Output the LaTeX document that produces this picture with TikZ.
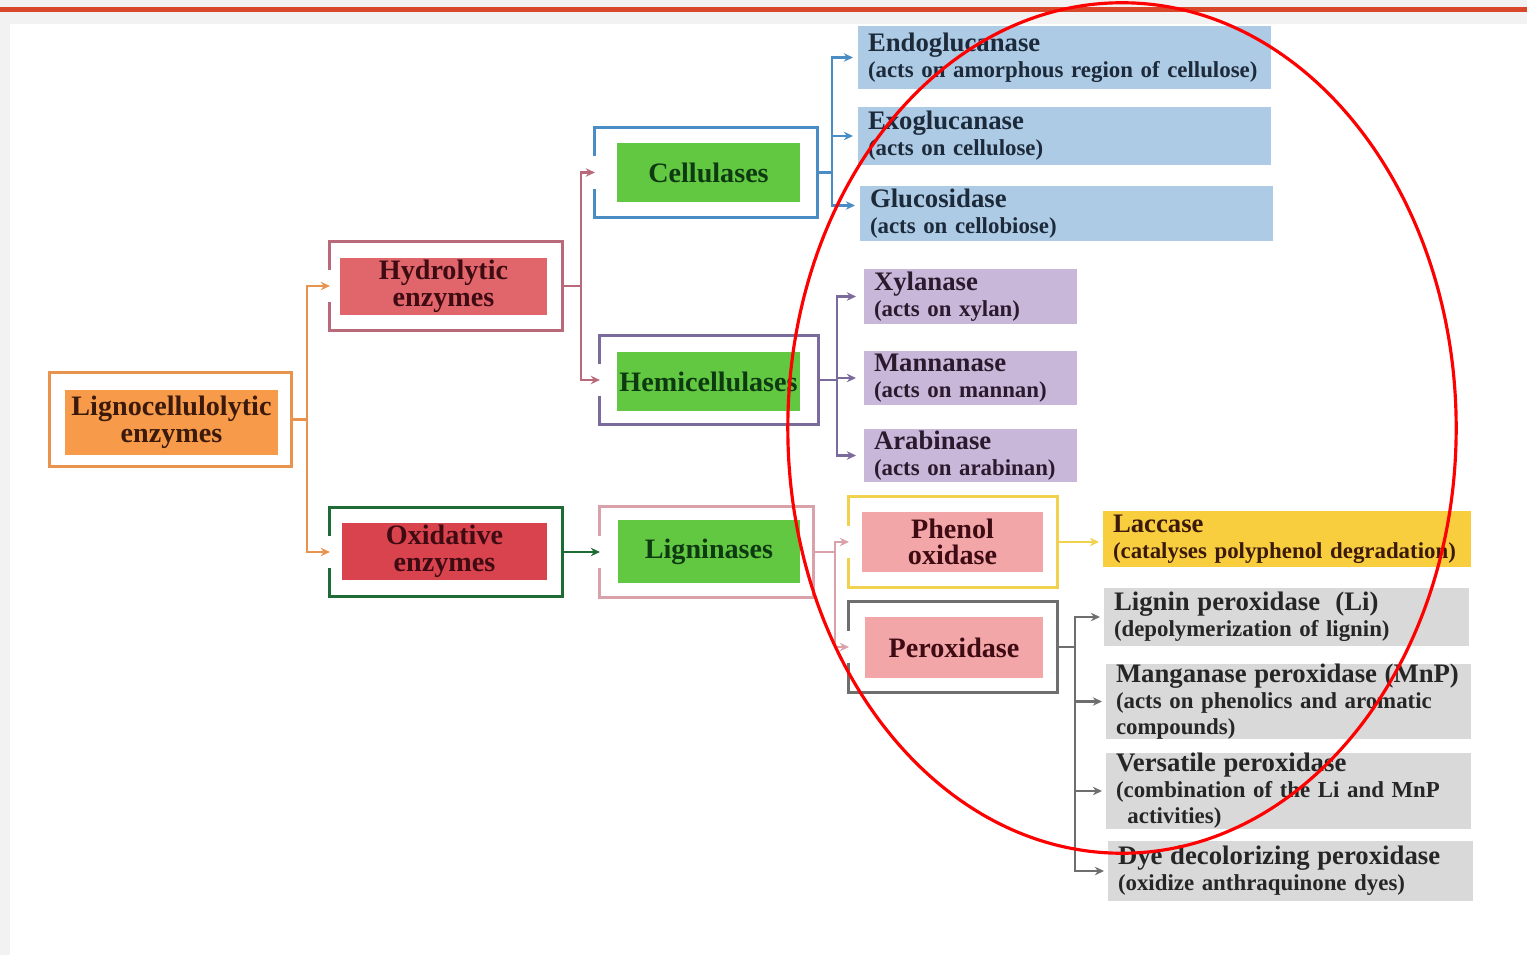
\documentclass[tikz,border=0pt]{standalone}
\usepackage{fontspec}
\setmainfont{Liberation Serif}
\usetikzlibrary{arrows.meta}

\definecolor{pagegray}{HTML}{F2F2F2}
\definecolor{topline}{HTML}{D9472B}
\definecolor{rootfill}{HTML}{F79A4A}
\definecolor{rootline}{HTML}{E8944E}
\definecolor{hydrofill}{HTML}{E0666B}
\definecolor{hydroline}{HTML}{B86A7A}
\definecolor{oxfill}{HTML}{D9434D}
\definecolor{oxline}{HTML}{1E6B36}
\definecolor{enzgreen}{HTML}{62C842}
\definecolor{cellline}{HTML}{4A8CC4}
\definecolor{hemiline}{HTML}{7B6A9C}
\definecolor{ligline}{HTML}{D9A2AA}
\definecolor{phenline}{HTML}{F0D24E}
\definecolor{peroxline}{HTML}{6E6E6E}
\definecolor{pinkfill}{HTML}{F2A6A8}
\definecolor{cellblue}{HTML}{AECBE6}
\definecolor{hemipurple}{HTML}{C9B7D9}
\definecolor{laccyellow}{HTML}{F8CD3E}
\definecolor{peroxgray}{HTML}{D9D9D9}
\definecolor{darkbrown}{HTML}{3B1A0C}
\definecolor{darkred}{HTML}{3F0B12}
\definecolor{darkgreen}{HTML}{0E3A12}
\definecolor{darknavy}{HTML}{1D2A3A}
\definecolor{darkplum}{HTML}{2B1A2E}
\definecolor{markred}{HTML}{FF0000}

\newcommand{\hfont}{\fontsize{7.6}{7.4}\selectfont}
\newcommand{\gapframe}[2]{%
  \draw[#2, frameline] ([yshift=0.16cm]#1.west) -- (#1.north west) -- (#1.north east)
    -- (#1.south east) -- (#1.south west) -- ([yshift=-0.16cm]#1.west);}

\tikzset{
  outerbox/.style={inner sep=0pt, outer sep=0pt},
  frameline/.style={line width=0.85pt},
  inbox/.style={inner sep=0pt, outer sep=0pt, align=center, font=\fontsize{8}{7.6}\selectfont\bfseries},
  leaf/.style={anchor=west, inner xsep=0.1cm, inner ysep=0pt, outer sep=0pt, align=left,
    font=\fontsize{6.5}{7.4}\selectfont\bfseries},
  conn/.style={line width=0.6pt, -{Stealth[length=2.6pt, width=2.4pt]}},
  bluebox/.style={leaf, fill=cellblue, text=darknavy, text width=3.93cm},
  purplebox/.style={leaf, fill=hemipurple, text=darkplum, text width=1.93cm},
  graybox/.style={leaf, fill=peroxgray, text=black!85, text width=3.45cm}
}

\begin{document}
\begin{tikzpicture}[x=0.01cm, y=-0.01cm]
  \useasboundingbox (0,0) rectangle (1527,955);
  \fill[pagegray] (0,0) rectangle (1527,955);
  \fill[white] (10,24) rectangle (1527,955);
  \draw[topline, line width=1.4pt] (0,9.5) -- (1527,9.5);

  % root
  \node[outerbox, draw=rootline, frameline, minimum width=2.41cm, minimum height=0.93cm] (rootf) at (170.5,419.5) {};
  \node[inbox, fill=rootfill, text=darkbrown, minimum width=2.13cm, minimum height=0.65cm] (root) at (171.5,422.5) {Lignocellulolytic\\enzymes};

  % second level
  \node[outerbox, minimum width=2.32cm, minimum height=0.88cm] (hydrof) at (446,286) {};
  \node[inbox, fill=hydrofill, text=darkred, minimum width=2.07cm, minimum height=0.57cm] (hydro) at (443.5,286.5) {Hydrolytic\\enzymes};
  \gapframe{hydrof}{hydroline}
  \node[outerbox, minimum width=2.32cm, minimum height=0.89cm] (oxf) at (446,552) {};
  \node[inbox, fill=oxfill, text=darkred, minimum width=2.05cm, minimum height=0.57cm] (ox) at (444.5,551.5) {Oxidative\\enzymes};
  \gapframe{oxf}{oxline}

  % third level
  \node[outerbox, minimum width=2.22cm, minimum height=0.89cm] (cellf) at (706,172.5) {};
  \node[inbox, fill=enzgreen, text=darkgreen, minimum width=1.83cm, minimum height=0.59cm] (cell) at (708.5,172.5) {Cellulases};
  \gapframe{cellf}{cellline}
  \node[outerbox, minimum width=2.18cm, minimum height=0.88cm] (hemif) at (709,380) {};
  \node[inbox, fill=enzgreen, text=darkgreen, minimum width=1.83cm, minimum height=0.59cm] (hemi) at (708.5,381.5) {Hemicellulases};
  \gapframe{hemif}{hemiline}
  \node[outerbox, minimum width=2.13cm, minimum height=0.90cm] (ligf) at (706.5,552) {};
  \node[inbox, fill=enzgreen, text=darkgreen, minimum width=1.82cm, minimum height=0.63cm] (lig) at (709,551.5) {Ligninases};
  \gapframe{ligf}{ligline}

  % ligninase groups
  \node[outerbox, minimum width=2.08cm, minimum height=0.90cm] (phenf) at (953,542) {};
  \node[inbox, fill=pinkfill, text=darkred, minimum width=1.81cm, minimum height=0.60cm] (phen) at (952.5,542) {Phenol\\oxidase};
  \gapframe{phenf}{phenline}
  \node[outerbox, minimum width=2.08cm, minimum height=0.90cm] (peroxf) at (953,647) {};
  \node[inbox, fill=pinkfill, text=darkred, minimum width=1.78cm, minimum height=0.61cm] (perox) at (954,647.5) {Peroxidase};
  \gapframe{peroxf}{peroxline}

  % cellulases
  \node[bluebox, minimum height=0.63cm] (endo) at (858,57.5) {{\hfont Endoglucanase}\\(acts on amorphous region of cellulose)};
  \node[bluebox, minimum height=0.58cm] (exo) at (858,136) {{\hfont Exoglucanase}\\(acts on cellulose)};
  \node[bluebox, minimum height=0.55cm] (gluco) at (860,213.5) {{\hfont Glucosidase}\\(acts on cellobiose)};

  % hemicellulases
  \node[purplebox, minimum height=0.55cm] (xyl) at (864,296.5) {{\hfont Xylanase}\\(acts on xylan)};
  \node[purplebox, minimum height=0.54cm] (mann) at (864,378) {{\hfont Mannanase}\\(acts on mannan)};
  \node[purplebox, minimum height=0.53cm] (arab) at (864,455.5) {{\hfont Arabinase}\\(acts on arabinan)};

  % phenol oxidase and peroxidases
  \node[leaf, fill=laccyellow, text=darkbrown, text width=3.48cm, minimum height=0.56cm] (lacc) at (1103,539) {{\hfont Laccase}\\(catalyses polyphenol degradation)};
  \node[graybox, minimum height=0.58cm] (lip) at (1104,617) {{\hfont Lignin peroxidase~ (Li)}\\(depolymerization of lignin)};
  \node[graybox, minimum height=0.73cm] (mnp) at (1106,701.5) {{\hfont Manganase peroxidase (MnP)}\\(acts on phenolics and aromatic\\compounds)};
  \node[graybox, minimum height=0.70cm] (vp) at (1106,791) {{\hfont Versatile peroxidase}\\(combination of the Li and MnP\\\hspace{0.5em}activities)};
  \node[graybox, minimum height=0.60cm] (dyp) at (1108,871) {{\hfont Dye decolorizing peroxidase}\\(oxidize anthraquinone dyes)};

  % connectors
  \draw[conn, rootline] (rootf.east) -- ++(16,0) |- (hydrof.west);
  \draw[conn, rootline] (rootf.east) -- ++(16,0) |- (oxf.west);
  \draw[conn, hydroline] (hydrof.east) -- ++(19,0) |- (cellf.west);
  \draw[conn, hydroline] (hydrof.east) -- ++(19,0) |- (hemif.west);
  \draw[conn, oxline] (oxf.east) -- (oxf.east -| ligf.west);
  \draw[conn, cellline, shorten >=0.05cm] (cellf.east) -- ++(15,0) |- (endo.west);
  \draw[conn, cellline, shorten >=0.05cm] (cellf.east) -- ++(15,0) |- (exo.west);
  \draw[conn, cellline, shorten >=0.05cm] (cellf.east) -- ++(15,0) |- ([yshift=0.08cm]gluco.west);
  \draw[conn, hemiline, shorten >=0.08cm] (hemif.east) -- ++(19,0) |- (xyl.west);
  \draw[conn, hemiline, shorten >=0.08cm] (hemif.east) -- ++(19,0) |- (mann.west);
  \draw[conn, hemiline, shorten >=0.08cm] (hemif.east) -- ++(19,0) |- (arab.west);
  \draw[conn, ligline] (ligf.east) -- ++(22,0) |- (phenf.west);
  \draw[conn, ligline] (ligf.east) -- ++(22,0) |- (peroxf.west);
  \draw[conn, phenline, shorten >=0.04cm] (phenf.east) -- (phenf.east -| lacc.west);
  \draw[conn, peroxline, shorten >=0.04cm] (peroxf.east) -- ++(18,0) |- (lip.west);
  \draw[conn, peroxline, shorten >=0.04cm] (peroxf.east) -- ++(18,0) |- (mnp.west);
  \draw[conn, peroxline, shorten >=0.04cm] (peroxf.east) -- ++(18,0) |- (vp.west);
  \draw[conn, peroxline, shorten >=0.04cm] (peroxf.east) -- ++(18,0) |- (dyp.west);

  % marker ellipse
  \draw[markred, line width=0.9pt] (1122,428) ellipse [x radius=3.34cm, y radius=4.25cm];
\end{tikzpicture}
\end{document}
